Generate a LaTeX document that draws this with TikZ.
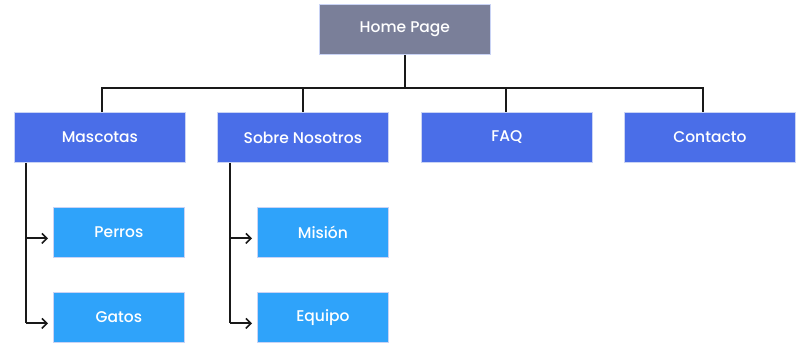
\documentclass[tikz,border=0pt]{standalone}
\usepackage{fontspec}
\setmainfont{Poppins}[UprightFont=* Medium]
\usetikzlibrary{arrows.meta,calc}
\definecolor{homec}{HTML}{7A7F99}
\definecolor{lvlone}{HTML}{4A6EE8}
\definecolor{lvltwo}{HTML}{2FA3FA}
\definecolor{edgec}{HTML}{C9D3F5}
\begin{document}
\begin{tikzpicture}[x=1pt,y=1pt,
  box/.style={draw=edgec,line width=0.8pt,minimum height=50pt,text=white,font=\fontsize{15.5}{18}\selectfont,inner sep=0pt,anchor=north west},
  homebox/.style={box,fill=homec,minimum width=171pt},
  topbox/.style={box,fill=lvlone,minimum width=171pt},
  subbox/.style={box,fill=lvltwo,minimum width=131pt},
  conn/.style={line width=2pt,black!90},
  arr/.style={conn,-{Straight Barb[length=5pt,width=10pt,line width=1.6pt]}}]
\useasboundingbox (0,0) rectangle (796,343);
\node[homebox] (home) at (319,339) {Home Page};
\node[topbox] (mas) at (14,231) {Mascotas};
\node[topbox] (sob) at (217,231) {Sobre Nosotros};
\node[topbox] (faq) at (421,231) {FAQ};
\node[topbox] (con) at (624,231) {Contacto};
\node[subbox] (per) at (53,136) {Perros};
\node[subbox] (gat) at (53,51) {Gatos};
\node[subbox] (mis) at (257,136) {Misión};
\node[subbox] (equ) at (257,51) {Equipo};
\coordinate (bus) at (0,254.5);
\coordinate (pmas) at ([xshift=2pt]mas.north);
\coordinate (psob) at (sob.north);
\coordinate (pfaq) at ([xshift=-1pt]faq.north);
\coordinate (pcon) at ([xshift=-7pt]con.north);
\draw[conn] (home.south) -- (home.south |- bus);
\draw[conn] (pmas) -- (pmas |- bus) -- (pcon |- bus) -- (pcon);
\draw[conn] (psob) -- (psob |- bus);
\draw[conn] (pfaq) -- (pfaq |- bus);
\coordinate (mtrunk) at (25.5,0);
\coordinate (strunk) at (229.5,0);
\draw[conn] (mas.south -| mtrunk) -- ($(gat.west -| mtrunk)+(0,-6)$);
\draw[arr] ($(per.west -| mtrunk)+(0,-6)$) -- ($(per.west)+(-5,-6)$);
\draw[arr] ($(gat.west -| mtrunk)+(0,-6)$) -- ($(gat.west)+(-5,-6)$);
\draw[conn] (sob.south -| strunk) -- ($(equ.west -| strunk)+(0,-6)$);
\draw[arr] ($(mis.west -| strunk)+(0,-6)$) -- ($(mis.west)+(-5,-6)$);
\draw[arr] ($(equ.west -| strunk)+(0,-6)$) -- ($(equ.west)+(-5,-6)$);
\end{tikzpicture}
\end{document}
